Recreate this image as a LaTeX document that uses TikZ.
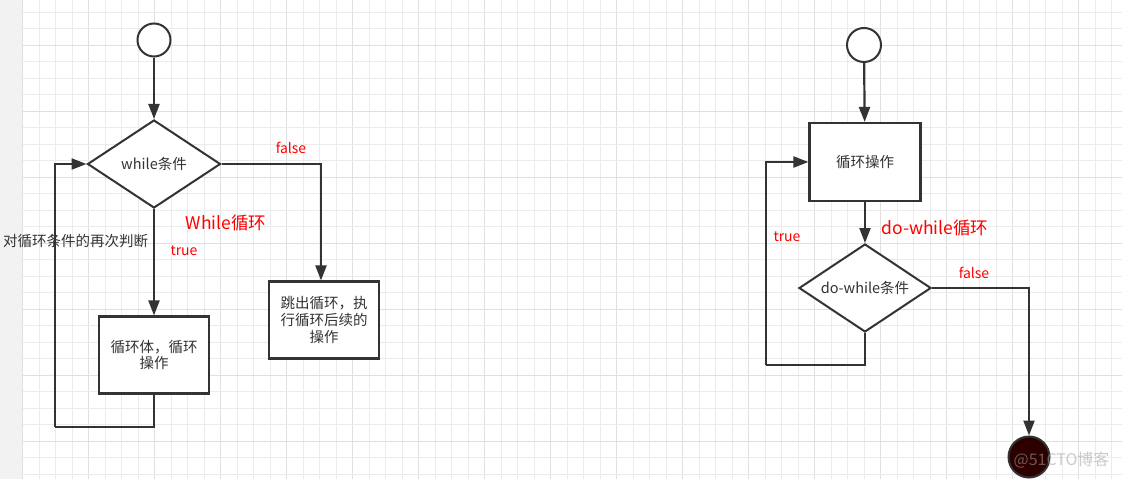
\documentclass[tikz,border=0pt]{standalone}
\usepackage{fontspec}
\newfontfamily\cjk{Noto Sans CJK SC}
\usetikzlibrary{shapes.geometric,arrows.meta}
\definecolor{ln}{HTML}{333333}
\definecolor{gridminor}{HTML}{EBEBEB}
\definecolor{gridmajor}{HTML}{E0E0E0}
\definecolor{strip}{HTML}{F2F2F2}
\definecolor{endfill}{HTML}{2D0000}
\definecolor{wm}{HTML}{A0A0A0}
\tikzset{
  base/.style={font=\cjk\fontsize{14.5}{16.6}\selectfont, text=ln},
  startnode/.style={circle, draw=ln, line width=2pt, minimum size=33pt, inner sep=0pt, fill=white},
  endnode/.style={circle, draw=ln, line width=2pt, minimum size=41pt, inner sep=0pt, fill=endfill},
  procbox/.style={base, rectangle, draw=ln, line width=2.2pt, fill=white, align=center, inner sep=0pt},
  decision/.style={base, diamond, draw=ln, line width=2pt, fill=white, inner sep=0pt, shape aspect=1.5},
  arr/.style={draw=ln, line width=2.2pt, -{Triangle[length=15pt,width=11pt]}},
  conn/.style={draw=ln, line width=2.2pt},
  redlbl/.style={font=\cjk\fontsize{14}{16}\selectfont, text=red},
  title/.style={font=\cjk\fontsize{17.5}{20}\selectfont, text=red},
}
\begin{document}
\begin{tikzpicture}[x=1pt,y=-1pt]
\useasboundingbox (0,0) rectangle (1122,479);
% background
\fill[white] (0,0) rectangle (1122,479);
\foreach \i in {0,...,66}{
  \pgfmathsetmacro{\xx}{22.7+16.5*\i}
  \pgfmathtruncatemacro{\mm}{mod(\i,4)}
  \ifnum\mm=0
    \draw[gridmajor, line width=1.2pt] (\xx,0) -- (\xx,479);
  \else
    \draw[gridminor, line width=1pt] (\xx,0) -- (\xx,479);
  \fi
}
\foreach \j in {0,...,28}{
  \pgfmathsetmacro{\yy}{12.3+16.5*\j}
  \pgfmathtruncatemacro{\mm}{mod(\j+2,4)}
  \ifnum\mm=0
    \draw[gridmajor, line width=1.2pt] (22,\yy) -- (1122,\yy);
  \else
    \draw[gridminor, line width=1pt] (22,\yy) -- (1122,\yy);
  \fi
}
\fill[strip] (0,0) rectangle (22,479);
\draw[gridmajor, line width=1pt] (22.5,0) -- (22.5,479);

% ---------- while loop ----------
\node[startnode] (lstart) at (154,40) {};
\node[decision, minimum width=133pt, minimum height=88pt] (ldia) at (154,164) {while条件};
\node[procbox, minimum width=110pt, minimum height=77pt] (lbody) at (154,355) {循环体，循环\\操作};
\node[procbox, minimum width=110pt, minimum height=77pt] (lexit) at (324,320) {跳出循环，执\\行循环后续的\\操作};
\coordinate (lback) at (55,427);

\draw[arr] (lstart) -- (ldia);
\draw[arr] (ldia.south) -- (lbody.north);
\draw[arr] (ldia.east) -| ([xshift=-3pt]lexit.north);
\draw[conn] (lbody.south) |- (lback);
\draw[arr] (lback) |- (ldia.west);

\node[redlbl] (lfalse) at (291,148) {false};
\node[redlbl] (ltrue) at (184,251) {true};
\node[title] (ltitle) at (226,223) {While循环};
\node[base, anchor=west, inner sep=0pt] (lnote) at (3,241) {对循环条件的再次判断};

% ---------- do-while loop ----------
\node[startnode, minimum size=34pt] (rstart) at (864,45) {};
\node[procbox, minimum width=111pt, minimum height=78pt] (rop) at (865,162) {循环操作};
\node[decision, minimum width=132pt, minimum height=88pt] (rdia) at (865,288) {do-while条件};
\node[endnode] (rend) at (1029,457) {};
\coordinate (rback) at (766,365);

\draw[arr] (rstart) -- (rop);
\draw[arr] (rop.south) -- (rdia.north);
\draw[arr] (rdia.east) -| (rend.north);
\draw[conn] (rdia.south) |- (rback);
\draw[arr] (rback) |- (rop.west);

\node[redlbl] (rfalse) at (974,273) {false};
\node[redlbl] (rtrue) at (787,237) {true};
\node[title] (rtitle) at (935,228) {do-while循环};

% watermark
\node[font=\cjk\fontsize{16}{18}\selectfont, text=wm, text opacity=0.55, anchor=east] (wmark) at (1113,460) {@51CTO博客};
\end{tikzpicture}
\end{document}
